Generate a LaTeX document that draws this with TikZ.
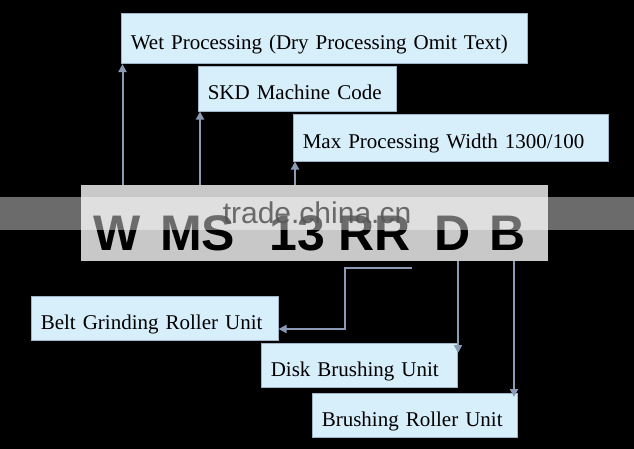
\documentclass[tikz,border=0pt]{standalone}
\usepackage{fontspec}
\setmainfont{Liberation Serif}
\newfontfamily\codefont{Liberation Sans}
\usetikzlibrary{arrows.meta}
\definecolor{boxfill}{RGB}{215,238,251}
\definecolor{boxedge}{RGB}{160,180,200}
\definecolor{conn}{RGB}{140,155,181}
\definecolor{codegray}{RGB}{200,200,200}
\definecolor{wmtext}{RGB}{85,85,85}
\tikzset{
  infobox/.style={fill=boxfill, draw=boxedge, line width=0.6pt, anchor=north west,
    inner xsep=9.5pt, inner ysep=0pt, align=left, text=black,
    font=\fontsize{21}{25}\selectfont, text height=28pt, text depth=6pt},
  conn/.style={draw=conn, line width=2pt, -{Triangle[width=8pt,length=8pt]}},
  connplain/.style={draw=conn, line width=2pt},
  codeletters/.style={font=\codefont\bfseries\fontsize{50}{55}\selectfont, anchor=base west, inner sep=0pt, text=black},
}
\begin{document}
\begin{tikzpicture}[x=1pt,y=-1pt]
\useasboundingbox (0,0) rectangle (634,449);
\fill[black] (0,0) rectangle (634,449);
% code bar
\node[fill=codegray, anchor=north west, minimum width=467pt, minimum height=76pt, inner sep=0pt] (code) at (81,185) {};
\node[codeletters] (cW) at (93,250) {W};
\node[codeletters] (cMS) at (160,250) {MS};
\node[codeletters] (c13) at (269,250) {13};
\node[codeletters] (cRR) at (338,250) {RR};
\node[codeletters] (cD) at (434,250) {D};
\node[codeletters] (cB) at (489,250) {B};
% upper boxes
\node[infobox, minimum width=406pt, minimum height=50pt, text width=387pt] (wet) at (121,13.5) {Wet Processing (Dry Processing Omit Text)};
\node[infobox, minimum width=198pt, minimum height=45pt, text width=179pt] (skd) at (198,66) {SKD Machine Code};
\node[infobox, minimum width=315pt, minimum height=47pt, text width=296pt] (max) at (293,114) {Max Processing Width 1300/100};
% lower boxes
\node[infobox, minimum width=247pt, minimum height=44pt, text width=228pt] (belt) at (31,296) {Belt Grinding Roller Unit};
\node[infobox, minimum width=196pt, minimum height=44pt, text width=177pt] (disk) at (261,343) {Disk Brushing Unit};
\node[infobox, minimum width=205pt, minimum height=44pt, text width=186pt] (brush) at (312,393) {Brushing Roller Unit};
% upper connectors
\draw[conn] (code.north west -| 122.5,0) -- (wet.south west -| 122.5,0);
\draw[conn] (code.north west -| 200,0) -- (skd.south west -| 200,0);
\draw[conn] (code.north west -| 295,0) -- (max.south west -| 295,0);
% lower connectors
\coordinate (beltstart) at (412,268);
\draw[conn] (beltstart) -- (345,268) -- (345,329) -- (belt.east |- 0,329);
\draw[conn] (code.south west -| 458,0) -- ([yshift=-10pt]disk.north west -| 458,0);
\draw[conn] (code.south west -| 514,0) -- ([yshift=-4pt]brush.north west -| 514,0);
% watermark band
\fill[white, opacity=0.42] (0,197) rectangle (634,230);
\node[font=\codefont\fontsize{30}{34}\selectfont, text=wmtext, opacity=0.85, inner sep=0pt] (wm) at (317,213) {trade.china.cn};
\end{tikzpicture}
\end{document}
